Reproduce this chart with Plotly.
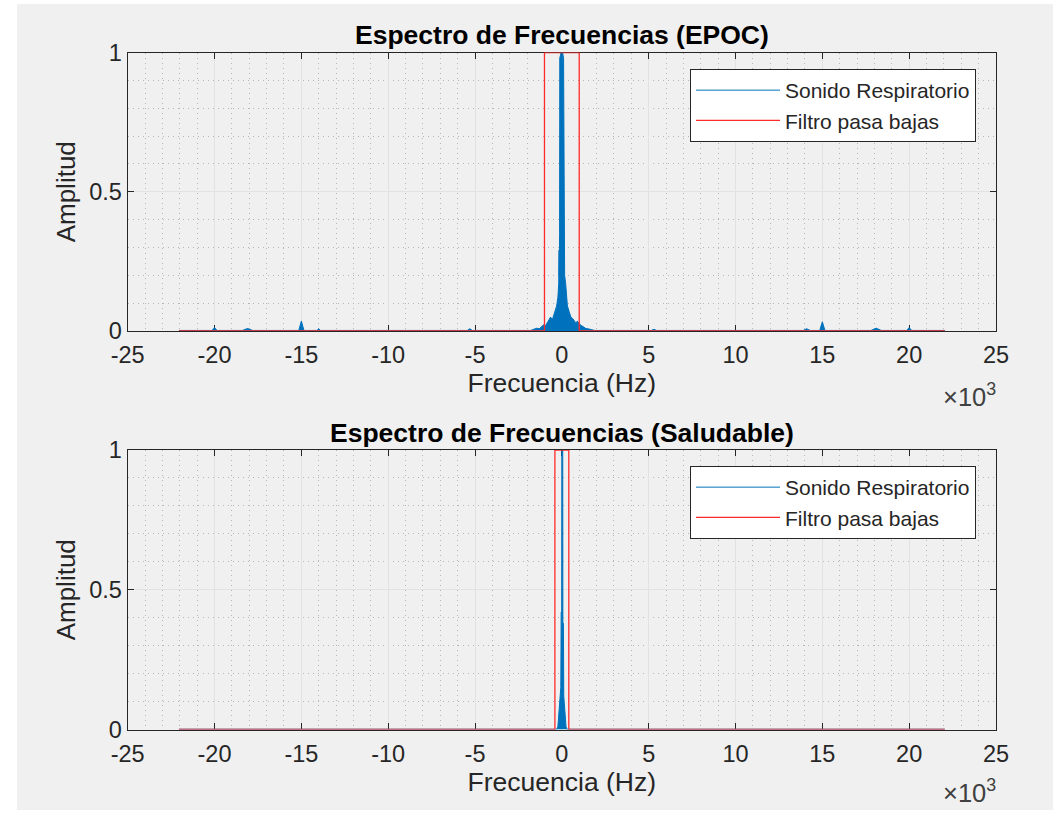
import plotly.graph_objects as go

# ---------------- data ----------------
freq_epoc = [-22050, -20150, -20000, -19850, -18400, -18100, -17800, -15150, -15000, -14850,
             -14100, -14000, -13900, -5450, -5300, -5150,
             -1800, -1600, -1450, -1300, -1150, -1050, -950, -850, -750, -650, -550, -450, -380,
             -300, -230, -180, -160, -150, -130, -120, -40, 0, 40, 100, 120, 160, 220, 260, 320,
             420, 520, 620, 700, 800, 900, 1000, 1100, 1250, 1350, 1500, 1700, 1900,
             5150, 5300, 5450, 13900, 14100, 14300, 14850, 15000, 15150,
             17800, 18100, 18400, 19850, 20000, 20150, 22050]
amp_epoc = [0.002, 0.002, 0.012, 0.002, 0.002, 0.009, 0.002, 0.002, 0.036, 0.002,
            0.002, 0.008, 0.002, 0.002, 0.008, 0.002,
            0.002, 0.006, 0.010, 0.008, 0.015, 0.022, 0.018, 0.030, 0.040, 0.050, 0.040, 0.060, 0.075,
            0.090, 0.120, 0.170, 0.290, 0.200, 0.350, 0.980, 1.000, 0.950, 1.000, 0.980, 0.350, 0.200, 0.170, 0.120, 0.090,
            0.070, 0.050, 0.045, 0.040, 0.030, 0.035, 0.028, 0.020, 0.015, 0.010, 0.008, 0.004, 0.002,
            0.002, 0.006, 0.002, 0.002, 0.008, 0.002, 0.002, 0.033, 0.002,
            0.002, 0.010, 0.002, 0.002, 0.012, 0.002, 0.002]

freq_sal = [-22050, -300, -230, -180, -120, -60, -40, -10, 0, 50, 60, 90, 110, 180, 240, 300, 22050]
amp_sal = [0.001, 0.001, 0.010, 0.050, 0.080, 0.150, 0.420, 0.420, 1.000, 1.000, 0.380, 0.380,
           0.120, 0.060, 0.010, 0.001, 0.001]

filt_epoc_freq = [-22050, -1000, -1000, 1000, 1000, 22050]
filt_epoc_amp = [0, 0, 1, 1, 0, 0]
filt_sal_freq = [-22050, -400, -400, 400, 400, 22050]
filt_sal_amp = [0, 0, 1, 1, 0, 0]

xtick_vals = [-25000, -20000, -15000, -10000, -5000, 0, 5000, 10000, 15000, 20000, 25000]
xtick_text = ["-25", "-20", "-15", "-10", "-5", "0", "5", "10", "15", "20", "25"]
ytick_vals = [0, 0.5, 1]
ytick_text = ["0", "0.5", "1"]

titles = ["Espectro de Frecuencias (EPOC)", "Espectro de Frecuencias (Saludable)"]
series_names = ["Sonido Respiratorio", "Filtro pasa bajas"]
x_label = "Frecuencia (Hz)"
y_label = "Amplitud"
exp_label = "×10<sup>3</sup>"

# ---------------- style ----------------
W, H = 1061, 813
BLUE = "#0072BD"
RED = "#ff2b2b"
AX = "#262626"
FONT = "Liberation Sans, Arial, sans-serif"

def px_x(p):
    return p / W

def px_y(p):
    return 1 - p / H

x_dom = [px_x(127.7), px_x(996)]
y_dom_top = [px_y(331), px_y(52.5)]
y_dom_bot = [px_y(729.5), px_y(450)]

fig = go.Figure()

def add_panel(freq, amp, ffreq, famp, xa, ya, leg):
    # filled body of the dense spectrum (same data as the line)
    fig.add_trace(go.Scatter(x=freq, y=amp, mode="lines", showlegend=False, hoverinfo="skip",
                             line=dict(color=BLUE, width=0), fill="tozeroy", fillcolor=BLUE,
                             xaxis=xa, yaxis=ya))
    fig.add_trace(go.Scatter(x=freq, y=amp, mode="lines", name=series_names[0],
                             line=dict(color=BLUE, width=1), xaxis=xa, yaxis=ya, legend=leg))
    fig.add_trace(go.Scatter(x=ffreq, y=famp, mode="lines", name=series_names[1],
                             line=dict(color=RED, width=1.3), xaxis=xa, yaxis=ya, legend=leg))

add_panel(freq_epoc, amp_epoc, filt_epoc_freq, filt_epoc_amp, "x", "y", "legend")
add_panel(freq_sal, amp_sal, filt_sal_freq, filt_sal_amp, "x2", "y2", "legend2")

def xaxis(anchor, dom):
    return dict(domain=dom, anchor=anchor, range=[-25000, 25000], automargin=False,
                tickmode="array", tickvals=xtick_vals, ticktext=xtick_text,
                ticks="inside", ticklen=6, tickcolor=AX, tickwidth=1,
                showline=True, linecolor=AX, linewidth=1.3, mirror="ticks",
                showgrid=True, gridcolor="#e2e2e2", gridwidth=1,
                minor=dict(dtick=1000, tick0=0, showgrid=True, gridcolor="#b5b5b5",
                           griddash="1px,4px", gridwidth=1),
                tickfont=dict(family=FONT, size=23.5, color=AX), ticklabelstandoff=3,
                title=dict(text=x_label, font=dict(family=FONT, size=26.5, color=AX), standoff=6),
                zeroline=False, layer="below traces", fixedrange=True)

def yaxis(anchor, dom):
    return dict(domain=dom, anchor=anchor, range=[0, 1], automargin=False,
                tickmode="array", tickvals=ytick_vals, ticktext=ytick_text,
                ticks="inside", ticklen=6, tickcolor=AX, tickwidth=1,
                showline=True, linecolor=AX, linewidth=1.3, mirror="ticks",
                showgrid=True, gridcolor="#e2e2e2", gridwidth=1,
                minor=dict(dtick=0.1, tick0=0, showgrid=True, gridcolor="#b5b5b5",
                           griddash="1px,4px", gridwidth=1),
                tickfont=dict(family=FONT, size=23.5, color=AX),
                title=dict(text=y_label, font=dict(family=FONT, size=26, color=AX), standoff=6),
                zeroline=False, layer="below traces", fixedrange=True)

legend_common = dict(bgcolor="white", bordercolor=AX, borderwidth=1,
                     font=dict(family=FONT, size=21, color=AX),
                     xanchor="right", yanchor="top", itemwidth=84, tracegroupgap=0)

fig.update_layout(
    width=W, height=H,
    margin=dict(l=0, r=0, t=0, b=0, autoexpand=False),
    paper_bgcolor="white", plot_bgcolor="white",
    xaxis=xaxis("y", x_dom), yaxis=yaxis("x", y_dom_top),
    xaxis2=xaxis("y2", x_dom), yaxis2=yaxis("x2", y_dom_bot),
    legend=dict(x=px_x(976), y=px_y(69), **legend_common),
    legend2=dict(x=px_x(976), y=px_y(466), **legend_common),
    showlegend=True,
    shapes=[dict(type="rect", xref="paper", yref="paper", x0=px_x(17), x1=px_x(1053),
                 y0=px_y(810), y1=px_y(4), fillcolor="#f0f0f0", line=dict(width=0), layer="below")],
    annotations=[
        dict(text="<b>%s</b>" % titles[0], xref="paper", yref="paper",
             x=(x_dom[0] + x_dom[1]) / 2, y=px_y(35), xanchor="center", yanchor="middle",
             showarrow=False, font=dict(family=FONT, size=26.5, color="black")),
        dict(text="<b>%s</b>" % titles[1], xref="paper", yref="paper",
             x=(x_dom[0] + x_dom[1]) / 2, y=px_y(433), xanchor="center", yanchor="middle",
             showarrow=False, font=dict(family=FONT, size=26.5, color="black")),
        dict(text=exp_label, xref="paper", yref="paper", x=px_x(998), y=px_y(395),
             xanchor="right", yanchor="middle", showarrow=False,
             font=dict(family=FONT, size=25.5, color="#404040")),
        dict(text=exp_label, xref="paper", yref="paper", x=px_x(998), y=px_y(791),
             xanchor="right", yanchor="middle", showarrow=False,
             font=dict(family=FONT, size=25.5, color="#404040")),
    ],
)

fig.write_html("out.html")
